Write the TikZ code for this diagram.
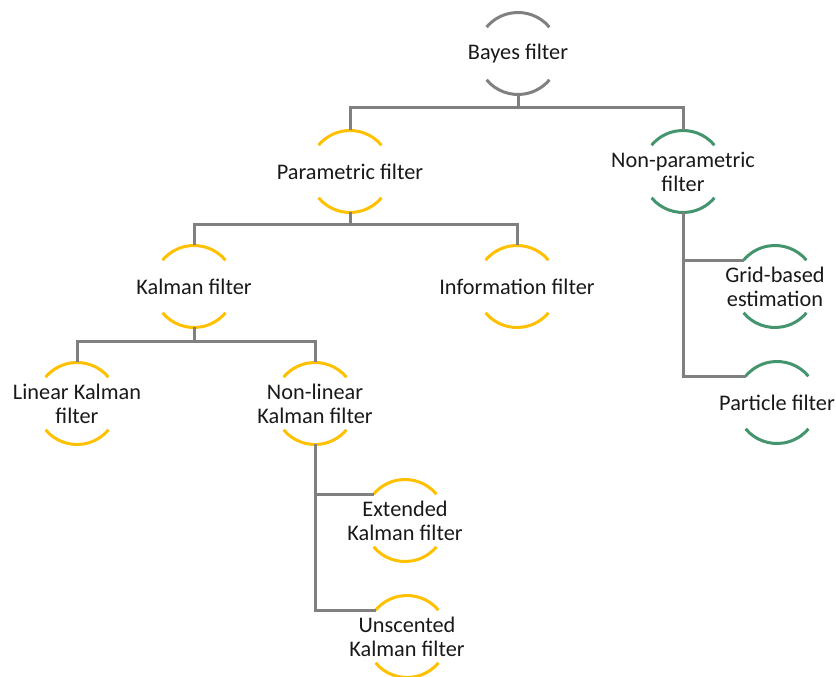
\documentclass[tikz,border=0pt]{standalone}
\usepackage{fontspec}
\setmainfont{Carlito}
\usetikzlibrary{calc}
\definecolor{cgray}{RGB}{128,128,128}
\definecolor{cgold}{RGB}{255,192,0}
\definecolor{cgreen}{RGB}{68,148,110}
\newcommand{\filtnode}[5]{%
  \node[ftext] (#1) at (#2,{677-#3}) {#5};
  \coordinate (#1-t) at ([yshift=41pt]#1.center);
  \coordinate (#1-b) at ([yshift=-41pt]#1.center);
  \coordinate (#1-l) at ([shift={(140:41pt)}]#1.center);
  \draw[arcline,#4] ([shift={(40:41pt)}]#1.center) arc[start angle=40,end angle=140,radius=41pt];
  \draw[arcline,#4] ([shift={(220:41pt)}]#1.center) arc[start angle=220,end angle=320,radius=41pt];
}
\begin{document}
\begin{tikzpicture}[x=1pt,y=1pt,
  ftext/.style={inner sep=0pt,align=center,font=\fontsize{22.3}{24}\selectfont,text=black!90,yshift=-1.5pt},
  arcline/.style={line width=3pt},
  conn/.style={draw=cgray,line width=3pt}]
\useasboundingbox (0,0) rectangle (836,677);
\filtnode{bayes}{518}{52}{cgray}{Bayes filter}
\filtnode{param}{350}{170}{cgold}{Parametric filter}
\filtnode{nonparam}{683}{170}{cgreen}{Non-parametric\\filter}
\filtnode{kalman}{194}{285}{cgold}{Kalman filter}
\filtnode{info}{517}{285}{cgold}{Information filter}
\filtnode{linear}{77}{402}{cgold}{Linear Kalman\\filter}
\filtnode{nonlin}{315}{402}{cgold}{Non-linear\\Kalman filter}
\filtnode{ext}{405}{519}{cgold}{Extended\\Kalman filter}
\filtnode{unsc}{407}{635}{cgold}{Unscented\\Kalman filter}
\filtnode{grid}{775}{285}{cgreen}{Grid-based\\estimation}
\filtnode{particle}{777}{401}{cgreen}{Particle filter}
\coordinate (bus1) at (518,{677-108});
\coordinate (bus2) at (350,{677-225});
\coordinate (bus3) at (194,{677-342});
\draw[conn] (bayes-b) -- (bus1);
\draw[conn] (param-t) |- (bus1) -| (nonparam-t);
\draw[conn] (param-b) -- (bus2);
\draw[conn] (kalman-t) |- (bus2) -| (info-t);
\draw[conn] (kalman-b) -- (bus3);
\draw[conn] (linear-t) |- (bus3) -| (nonlin-t);
\draw[conn] (nonlin-b) |- (ext-l);
\draw[conn] (nonlin-b) |- (unsc-l);
\draw[conn] (nonparam-b) |- (grid-l);
\draw[conn] (nonparam-b) |- (particle-l);
\end{tikzpicture}
\end{document}
